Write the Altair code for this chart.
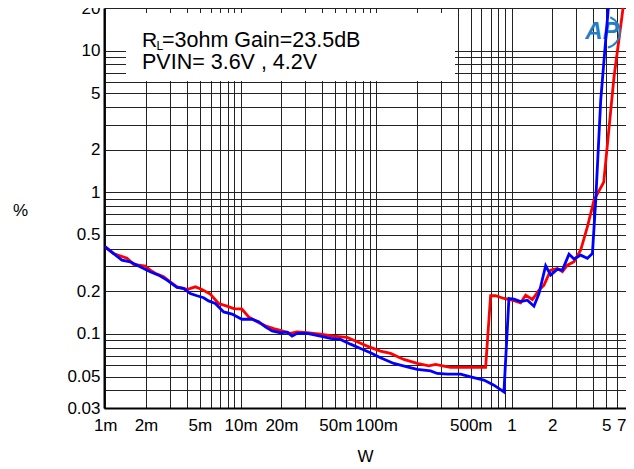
import altair as alt
import pandas as pd

FONT = "Liberation Sans"

# ---- data (W, THD+N %) ----
red_w = [0.001, 0.00115, 0.00145, 0.00162, 0.00198, 0.00215, 0.00234, 0.0027, 0.00302, 0.00339,
         0.00402, 0.00463, 0.00518, 0.00597, 0.00688, 0.00793, 0.00888, 0.0102, 0.01146, 0.01322,
         0.01523, 0.01754, 0.01965, 0.0233, 0.02612, 0.03096, 0.03882, 0.04869, 0.06114, 0.0725,
         0.08596, 0.1078, 0.1278, 0.1602, 0.2013, 0.2453, 0.2748, 0.3165, 0.3548, 0.4447,
         0.6437, 0.7006, 0.7628, 0.8789, 1.014, 1.167, 1.271, 1.425, 1.595, 1.736,
         1.945, 2.181, 2.374, 2.585, 2.892, 3.241, 3.633, 4.066, 4.795, 5.713, 6.659]
red_thd = [0.412, 0.370, 0.342, 0.310, 0.301, 0.282, 0.268, 0.253, 0.233, 0.215,
           0.206, 0.215, 0.206, 0.191, 0.164, 0.157, 0.151, 0.150, 0.132, 0.122,
           0.114, 0.109, 0.106, 0.101, 0.1035, 0.102, 0.0997, 0.0965, 0.0945, 0.088,
           0.082, 0.0756, 0.0729, 0.0661, 0.0619, 0.0596, 0.0609, 0.0593, 0.058, 0.058,
           0.058, 0.186, 0.186, 0.178, 0.173, 0.166, 0.188, 0.175, 0.204, 0.221,
           0.282, 0.290, 0.275, 0.306, 0.323, 0.391, 0.571, 0.881, 1.181, 6.545, 20]

blue_w = [0.001, 0.00115, 0.00133, 0.00153, 0.00181, 0.00215, 0.00248, 0.00286, 0.00339, 0.00379,
          0.00425, 0.00476, 0.00533, 0.0058, 0.0065, 0.00749, 0.00864, 0.0102, 0.01214, 0.01358,
          0.01523, 0.01707, 0.01965, 0.02203, 0.02399, 0.02612, 0.03096, 0.03882, 0.04603, 0.05457,
          0.0647, 0.0767, 0.09093, 0.1078, 0.1351, 0.1698, 0.2013, 0.2524, 0.2829, 0.3354,
          0.4206, 0.4985, 0.6252, 0.7413, 0.8789, 0.9568, 1.042, 1.167, 1.309, 1.464,
          1.595, 1.786, 1.945, 2.181, 2.374, 2.657, 2.892, 3.241, 3.633, 3.956,
          4.184, 4.556, 5.184]
blue_thd = [0.412, 0.370, 0.332, 0.323, 0.298, 0.275, 0.260, 0.240, 0.213, 0.210,
            0.193, 0.186, 0.180, 0.171, 0.164, 0.143, 0.138, 0.127, 0.127, 0.122,
            0.112, 0.105, 0.102, 0.103, 0.0965, 0.101, 0.101, 0.0965, 0.093, 0.0915,
            0.0847, 0.079, 0.0736, 0.068, 0.0619, 0.0586, 0.0562, 0.0549, 0.0526, 0.052,
            0.052, 0.0498, 0.0472, 0.0435, 0.039, 0.178, 0.176, 0.169, 0.173, 0.157,
            0.193, 0.303, 0.260, 0.286, 0.282, 0.366, 0.338, 0.360, 0.342, 0.370,
            0.881, 4.48, 20]

# ---- axes ----
x_grid_values = [0.001, 0.002, 0.003, 0.004, 0.005, 0.006, 0.007, 0.008, 0.009,
                 0.01, 0.02, 0.03, 0.04, 0.05, 0.06, 0.07, 0.08, 0.09,
                 0.1, 0.2, 0.3, 0.4, 0.5, 0.6, 0.7, 0.8, 0.9,
                 1, 2, 3, 4, 5, 6, 7]
x_label_values = [0.001, 0.002, 0.005, 0.01, 0.02, 0.05, 0.1, 0.5, 1, 2, 5, 7]
x_label_text = ["1m", "2m", "5m", "10m", "20m", "50m", "100m", "500m", "1", "2", "5", "7"]

y_grid_values = [0.03, 0.04, 0.05, 0.06, 0.07, 0.08, 0.09,
                 0.1, 0.2, 0.3, 0.4, 0.5, 0.6, 0.7, 0.8, 0.9,
                 1, 2, 3, 4, 5, 6, 7, 8, 9, 10, 20]
y_label_values = [0.03, 0.05, 0.1, 0.2, 0.5, 1, 2, 5, 10, 20]
y_label_text = ["0.03", "0.05", "0.1", "0.2", "0.5", "1", "2", "5", "10", "20"]

x_domain = [0.00098, 7.0]
y_domain = [0.03, 20]


def label_expr(vals, texts):
    expr = "''"
    for v, t in reversed(list(zip(vals, texts))):
        expr = f"abs(datum.value/{v}-1)<1e-6 ? '{t}' : ({expr})"
    return expr


red_df = pd.DataFrame({"W": red_w, "THD": red_thd, "i": range(len(red_w))})
blue_df = pd.DataFrame({"W": blue_w, "THD": blue_thd, "i": range(len(blue_w))})

x_axis = alt.Axis(values=x_grid_values, labelExpr=label_expr(x_label_values, x_label_text),
                  grid=True, ticks=False, labelOverlap=False, labelFlush=1,
                  labelFont=FONT, labelFontSize=17, labelColor="black", labelPadding=9,
                  title="W", titleFont=FONT, titleFontSize=17, titleFontWeight="normal",
                  titleColor="black", titleY=48, titleBaseline="middle",
                  domainColor="black", domainWidth=2, gridColor="#222222", gridWidth=1)
y_axis = alt.Axis(values=y_grid_values, labelExpr=label_expr(y_label_values, y_label_text),
                  grid=True, ticks=False, labelOverlap=False, labelFlush=False,
                  labelFont=FONT, labelFontSize=17, labelColor="black", labelPadding=4,
                  title="%", titleFont=FONT, titleFontSize=17, titleFontWeight="normal",
                  titleColor="black", titleAngle=0, titleX=-84, titleY=202,
                  titleAlign="center", titleBaseline="middle",
                  domainColor="black", domainWidth=2, gridColor="#222222", gridWidth=1)

xs = alt.Scale(type="log", domain=x_domain, nice=False)
ys = alt.Scale(type="log", domain=y_domain, nice=False)

red_line = alt.Chart(red_df).mark_line(color="#ff0000", strokeWidth=2.8, clip=True).encode(
    x=alt.X("W:Q", scale=xs, axis=x_axis),
    y=alt.Y("THD:Q", scale=ys, axis=y_axis),
    order="i:Q",
)
blue_line = alt.Chart(blue_df).mark_line(color="#0000ff", strokeWidth=2.8, clip=True).encode(
    x=alt.X("W:Q", scale=xs),
    y=alt.Y("THD:Q", scale=ys),
    order="i:Q",
)

one = pd.DataFrame({"a": [0]})
box = alt.Chart(one).mark_rect(fill="white").encode(
    x=alt.value(22), x2=alt.value(351), y=alt.value(5), y2=alt.value(73))


def txt(s, x, y, size, **kw):
    return alt.Chart(one).mark_text(text=s, align="left", baseline="alphabetic",
                                    font=FONT, fontSize=size, color="black", **kw).encode(
        x=alt.value(x), y=alt.value(y))


t1 = txt("R", 38, 38.7, 21)
t1s = txt("L", 52.5, 41.5, 12)
t1b = txt("=3ohm Gain=23.5dB", 58, 38.7, 21.5)
t2 = txt("PVIN= 3.6V , 4.2V", 38, 60.5, 21.5)

logo = alt.Chart(one).mark_text(text="AP", font=FONT, fontSize=24, fontStyle="italic",
                                fontWeight="bold", color="#1f80c4", align="center",
                                baseline="middle").encode(x=alt.value(498), y=alt.value(24))
logo_arc = alt.Chart(one).mark_arc(color="#1f80c4", radius=17, radius2=15,
                                   theta=0.4, theta2=2.9).encode(
    x=alt.value(500), y=alt.value(24))

chart = alt.layer(red_line, box, t1, t1s, t1b, t2, logo_arc, logo, blue_line).properties(
    width=522, height=400,
    autosize=alt.AutoSizeParams(type="none"),
    padding={"left": 96, "top": 0, "right": 0, "bottom": 58},
).configure_view(stroke="black", strokeWidth=2).configure(background="white")

chart.save("out.html", embed_options={"renderer": "svg", "actions": False})
